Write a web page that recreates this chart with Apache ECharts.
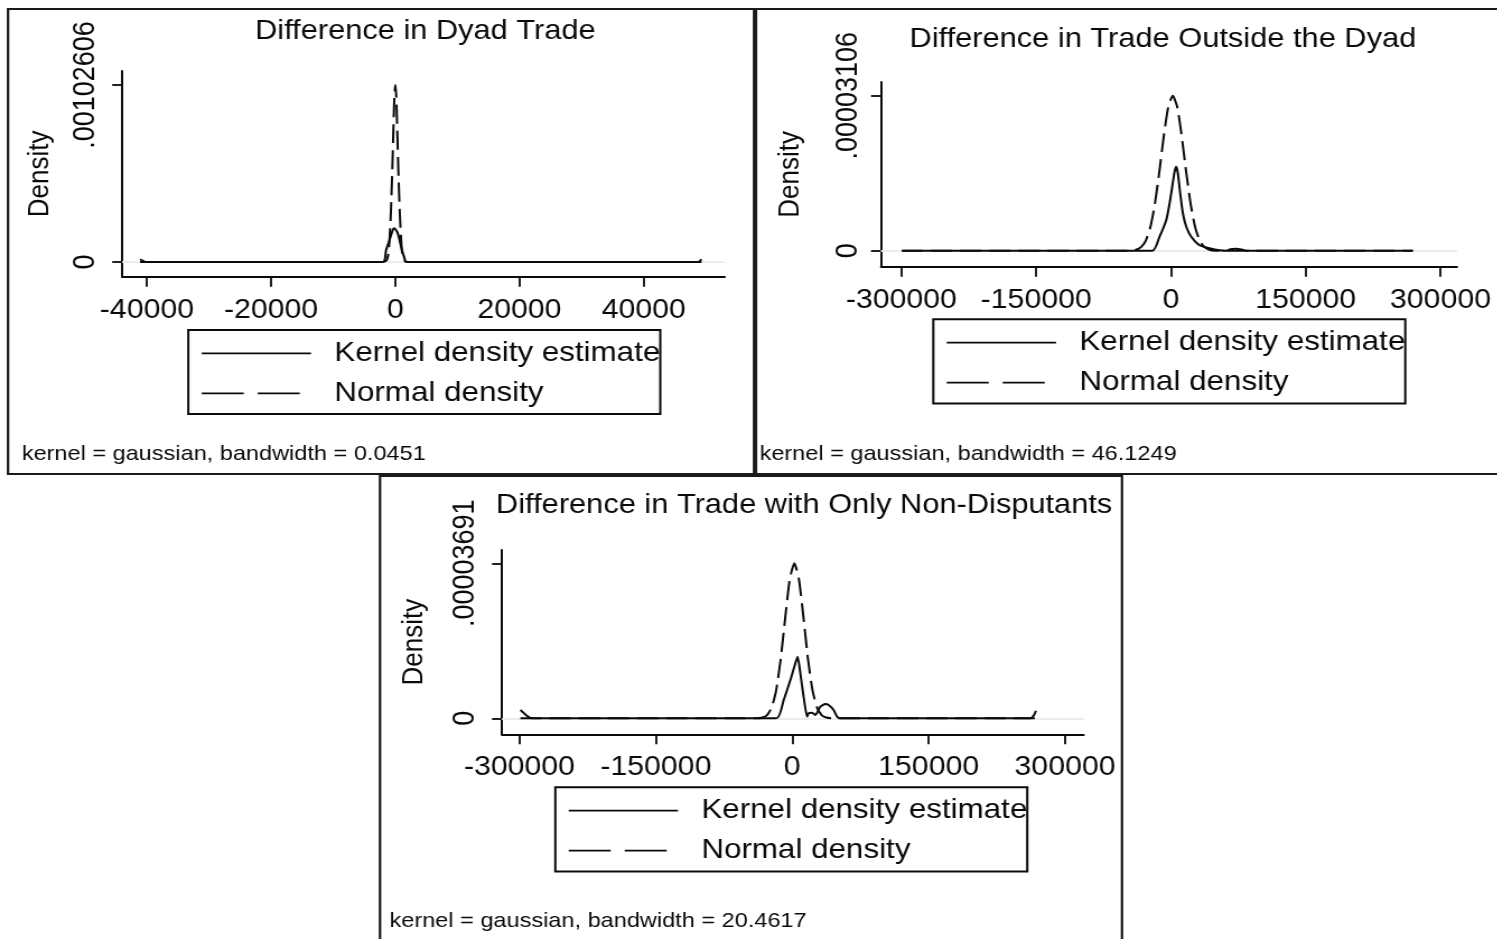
<!DOCTYPE html>
<html>
<head>
<meta charset="utf-8">
<script src="https://cdn.jsdelivr.net/npm/echarts@6/dist/echarts.min.js"></script>
<style>
  html, body { margin: 0; padding: 0; background: #fff; overflow: hidden; }
  #chart { height: 939px; transform-origin: 0 0; }
</style>
</head>
<body>
<div id="chart"></div>
<script>
// ---- labels ----
const legendNames = ['Kernel density estimate', 'Normal density'];
const panelTitles = [
  'Difference in Dyad Trade',
  'Difference in Trade Outside the Dyad',
  'Difference in Trade with Only Non-Disputants'
];
const panelNotes = [
  'kernel = gaussian, bandwidth = 0.0451',
  'kernel = gaussian, bandwidth = 46.1249',
  'kernel = gaussian, bandwidth = 20.4617'
];
const yName = 'Density';

// ---- tick values ----
const dyadXTicks = [-40000, -20000, 0, 20000, 40000];
const dyadYTicks = [0, 0.00102606];
const outsideXTicks = [-300000, -150000, 0, 150000, 300000];
const outsideYTicks = [0, 0.00003106];
const nonDispXTicks = [-300000, -150000, 0, 150000, 300000];
const nonDispYTicks = [0, 0.00003691];

// ---- Difference in Dyad Trade ----
const dyadKdeX = [-41100, -40700, -40200, -2000, -1480, -930, -400, -130, 400, 930, 1480, 1740, 48800, 49100, 49300];
const dyadKdeY = [0.000016, 0.000008, 0, 0, 0.00007, 0.000128, 0.000186, 0.000195, 0.000166, 0.000089, 0.000021, 0, 0, 0.000008, 0.000016];
const dyadNormX = [-41100, -2000, -1400, -1100, -900, -700, -500, -300, -150, 0, 150, 300, 500, 700, 900, 1100, 1400, 2000, 49300];
const dyadNormY = [0, 0, 0.00001, 0.00005, 0.00015, 0.0003, 0.00052, 0.00078, 0.00096, 0.00102606, 0.00096, 0.00078, 0.00052, 0.0003, 0.00015, 0.00005, 0.00001, 0, 0];

// ---- Difference in Trade Outside the Dyad ----
const outsideKdeX = [-299500, -20600, -12700, -5200, -1500, 1400, 4000, 5900, 7700, 10300, 13300, 17000, 22600, 31800, 43000, 54000, 62000, 66000, 72000, 80000, 84000, 269200];
const outsideKdeY = [0, 0, 2.8e-6, 6.15e-6, 9.5e-6, 1.28e-5, 1.58e-5, 1.68e-5, 1.55e-5, 1.15e-5, 7.5e-6, 4.8e-6, 2.8e-6, 1.1e-6, 5e-7, 1e-7, 0, 3e-7, 4e-7, 2e-7, 0, 0];
const outsideNormX = [-299500, -45000, -38000, -33000, -28000, -23000, -18000, -13000, -8000, -3000, 2000, 7000, 12000, 17000, 22000, 27000, 32000, 37000, 42000, 49000, 269200];
const outsideNormY = [0, 0, 2.4e-7, 7.6e-7, 2.03e-6, 4.67e-6, 9.25e-6, 1.57e-5, 2.29e-5, 2.88e-5, 3.106e-5, 2.88e-5, 2.29e-5, 1.57e-5, 9.25e-6, 4.67e-6, 2.03e-6, 7.6e-7, 2.4e-7, 0, 0];

// ---- Difference in Trade with Only Non-Disputants ----
const nonDispKdeX = [-299000, -293000, -287000, -17500, -9400, -2100, 3400, 5900, 8900, 12500, 16300, 18000, 21800, 25400, 30900, 36400, 40000, 45500, 49300, 53000, 262000, 266000, 268000];
const nonDispKdeY = [2.0e-6, 8e-7, 0, 0, 4.36e-6, 9.1e-6, 1.31e-5, 1.467e-5, 1.07e-5, 5.1e-6, 3.8e-7, 1.19e-6, 1.33e-6, 7.9e-7, 2.76e-6, 3.41e-6, 3.17e-6, 1.98e-6, 3.8e-7, 0, 0, 8e-7, 1.8e-6];
const nonDispNormX = [-299000, -40000, -32700, -27700, -22700, -17700, -12700, -7700, -2700, 2300, 7300, 12300, 17300, 22300, 27300, 32300, 37300, 45000, 268000];
const nonDispNormY = [0, 0, 1.96e-7, 7.8e-7, 2.54e-6, 6.66e-6, 1.41e-5, 2.406e-5, 3.316e-5, 3.691e-5, 3.316e-5, 2.406e-5, 1.41e-5, 6.66e-6, 2.54e-6, 7.8e-7, 1.96e-7, 0, 0];

// ---- page geometry: the whole figure is drawn with a horizontal stretch ----
const SX = 1.12;
const PAGE_W = 1497;
const hx = v => v / SX;
const el = document.getElementById('chart');
el.style.width = (PAGE_W / SX) + 'px';
el.style.transform = 'scaleX(' + SX + ')';

const FONT = "'Liberation Sans', Arial, sans-serif";
const INK = '#0a0a0a';
const pairs = (xs, ys) => xs.map((x, i) => [x, ys[i]]);

// layout of each panel, horizontal values in page pixels
const panels = [
  {
    box: [8, 9, 746, 465],
    grid: { l: 122.2, t: 71, r: 724.7, b: 276.7 },
    xRange: [-43977, 53043], yRange: [-0.0000852, 0.0011072],
    xTicks: dyadXTicks, yTicks: dyadYTicks,
    kde: [dyadKdeX, dyadKdeY], norm: [dyadNormX, dyadNormY],
    titleLeft: 255, titleTop: 16, noteLeft: 21.7, noteTop: 442,
    legendLeft: 188.3, legendTop: 330, yLabelMargin: 19.5, nameGap: 60
  },
  {
    box: [756, 9, 760, 465],
    grid: { l: 881, t: 82, r: 1457, b: 266.7 },
    xRange: [-322700, 318400], yRange: [-0.000003206, 0.000033806],
    xTicks: outsideXTicks, yTicks: outsideYTicks,
    kde: [outsideKdeX, outsideKdeY], norm: [outsideNormX, outsideNormY],
    titleLeft: 909.5, titleTop: 24.5, noteLeft: 759.5, noteTop: 442,
    legendLeft: 933.3, legendTop: 319.3, yLabelMargin: 16, nameGap: 68
  },
  {
    box: [380, 476, 742, 470],
    grid: { l: 502, t: 550, r: 1083.7, b: 734.3 },
    xRange: [-319248, 320568], yRange: [-0.00000381, 0.000040077],
    xTicks: nonDispXTicks, yTicks: nonDispYTicks,
    kde: [nonDispKdeX, nonDispKdeY], norm: [nonDispNormX, nonDispNormY],
    titleLeft: 496, titleTop: 490, noteLeft: 389.5, noteTop: 909,
    legendLeft: 555.3, legendTop: 787.3, yLabelMargin: 19.5, nameGap: 65.5
  }
];

const yLabelText = v => (v === 0 ? '0' : String(v).replace(/^0\./, '.'));

const option = {
  backgroundColor: '#fff',
  animation: false,
  color: [INK, INK],
  textStyle: { fontFamily: FONT },
  title: [].concat(
    panels.map((p, i) => ({
      text: panelTitles[i], left: hx(p.titleLeft), top: p.titleTop, padding: 0,
      textStyle: { fontFamily: FONT, fontSize: 27.5, fontWeight: 'normal', color: INK, lineHeight: 30 }
    })),
    panels.map((p, i) => ({
      text: panelNotes[i], left: hx(p.noteLeft), top: p.noteTop, padding: 0,
      textStyle: { fontFamily: FONT, fontSize: 21, fontWeight: 'normal', color: INK, lineHeight: 24 }
    }))
  ),
  legend: panels.map(p => ({
    orient: 'vertical',
    left: hx(p.legendLeft), top: p.legendTop,
    itemWidth: hx(109.3), itemHeight: 14, itemGap: 10,
    padding: [8.3, 0, 5.8, hx(12.4)],
    borderColor: INK, borderWidth: 2, borderRadius: 0,
    backgroundColor: '#fff',
    selectedMode: false,
    itemStyle: { opacity: 0, borderWidth: 0 },
    textStyle: { fontFamily: FONT, fontSize: 28, color: INK, lineHeight: 30, padding: [0, 0, 0, hx(23.3) - 5] },
    data: [
      { name: legendNames[0], lineStyle: { type: 'solid', width: 1.8, color: INK } },
      { name: legendNames[1], lineStyle: { type: [37.5, 12.5], width: 1.8, color: INK } }
    ]
  })),
  grid: panels.map(p => ({
    left: hx(p.grid.l), top: p.grid.t,
    width: hx(p.grid.r - p.grid.l), height: p.grid.b - p.grid.t,
    outerBoundsMode: 'none', containLabel: false
  })),
  xAxis: panels.map((p, i) => ({
    type: 'value', gridIndex: i, min: p.xRange[0], max: p.xRange[1],
    axisLine: { show: true, onZero: false, lineStyle: { color: INK, width: 2 } },
    axisTick: { show: true, customValues: p.xTicks, length: 10, lineStyle: { color: INK, width: 1.8 } },
    axisLabel: {
      customValues: p.xTicks, margin: 20, fontSize: 27, fontFamily: FONT, color: INK,
      formatter: v => String(v)
    },
    splitLine: { show: false }
  })),
  yAxis: panels.map((p, i) => ({
    type: 'value', gridIndex: i, min: p.yRange[0], max: p.yRange[1],
    name: yName, nameLocation: 'middle', nameRotate: 90, nameGap: p.nameGap,
    nameTextStyle: { fontFamily: FONT, fontSize: 26, color: INK },
    axisLine: { show: true, onZero: false, lineStyle: { color: INK, width: 2 } },
    axisTick: { show: true, customValues: p.yTicks, length: hx(10), lineStyle: { color: INK, width: 1.8 } },
    axisLabel: {
      customValues: p.yTicks, rotate: 90, margin: p.yLabelMargin,
      fontSize: 27, fontFamily: FONT, color: INK, formatter: yLabelText
    },
    splitLine: { show: false }
  })),
  series: [].concat(...panels.map((p, i) => [
    {
      // light reference lines at the labelled densities
      type: 'line', xAxisIndex: i, yAxisIndex: i, data: [], silent: true, z: 1,
      markLine: {
        silent: true, symbol: 'none', label: { show: false },
        lineStyle: { color: '#e4edf0', width: 1.6, type: 'solid' },
        data: p.yTicks.map(v => ({ yAxis: v }))
      }
    },
    {
      name: legendNames[0], type: 'line', xAxisIndex: i, yAxisIndex: i,
      data: pairs(p.kde[0], p.kde[1]), symbol: 'none', smooth: 0.2, z: 10, silent: true,
      itemStyle: { color: INK },
      lineStyle: { color: INK, width: 2, type: 'solid' }
    },
    {
      name: legendNames[1], type: 'line', xAxisIndex: i, yAxisIndex: i,
      data: pairs(p.norm[0], p.norm[1]), symbol: 'none', smooth: 0.2, z: 10, silent: true,
      itemStyle: { color: INK },
      lineStyle: { color: INK, width: 2, type: [19, 7] }
    }
  ])),
  graphic: panels.map(p => ({
    type: 'rect', silent: true, z: 0,
    shape: { x: hx(p.box[0]), y: p.box[1], width: hx(p.box[2]), height: p.box[3] },
    style: { fill: 'none', stroke: '#1a1a1a', lineWidth: 2.2 }
  }))
};

const chart = echarts.init(el, null, { renderer: 'canvas' });
chart.setOption(option);
</script>
</body>
</html>
